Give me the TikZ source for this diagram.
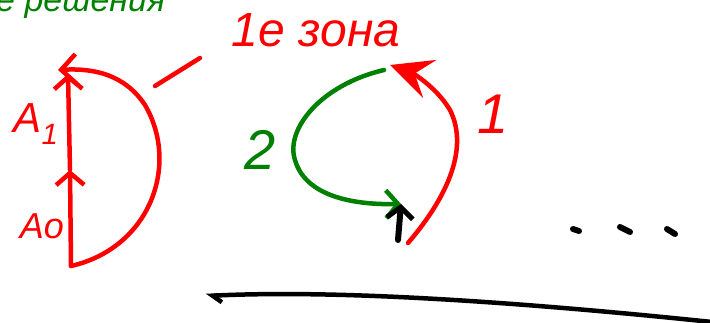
\documentclass[tikz,border=0pt]{standalone}
\usepackage{fontspec}
\setmainfont{Liberation Sans}
\usetikzlibrary{arrows.meta}

\tikzset{
  redpen/.style={draw=red, line width=4.5pt, line cap=round, line join=round},
  greenpen/.style={draw=green!50!black, line width=4.5pt, line cap=round, line join=round},
  blackpen/.style={draw=black, line width=4.5pt, line cap=round, line join=round},
  barb/.style={-{Straight Barb[length=12pt, width=28pt, line width=4.5pt]}},
  hand/.style={font=\itshape\fontsize{#1}{#1}\selectfont, inner sep=0pt}
}

\begin{document}
\begin{tikzpicture}[x=1pt, y=-1pt]
    \useasboundingbox (0,0) rectangle (710,323);
    \clip (0,0) rectangle (710,323);

    % top line, cut off as in the sketch
    \node[hand=34, text=green!50!black, anchor=base west] (top) at (-4,12) {е решения};

    % left: A0 -> A1 and the way back
    \coordinate (a0) at (71,266);
    \coordinate (am) at (70,170);
    \coordinate (a1) at (68,74);
    \coordinate (back) at (58,70);
    \draw[redpen, barb] (a0) -- (am);
    \draw[redpen, barb] (am) -- (a1);
    \draw[redpen, -{Straight Barb[length=15pt, width=30pt, line width=4.5pt]}] (a0)
        .. controls (150,248) and (180,165) .. (145,105)
        .. controls (125,75) and (95,68) .. (back);
    \node[hand=42, text=red] (lblA1) at (36,124) {A\textsubscript{1}};
    \node[hand=36, text=red] (lblA0) at (42,226) {Ao};

    \node[hand=48, text=red] (zone) at (316,30) {1е зона};
    \coordinate (ptrA) at (155,86);
    \coordinate (ptrB) at (200,58);
    \draw[redpen] (ptrA) -- (ptrB);

    % right: the loop 1 / 2
    \coordinate (cTop) at (390,65);
    \coordinate (gTop) at (384,70);
    \coordinate (cMid) at (401,204);
    \coordinate (cBot) at (408,243);
    \coordinate (bBot) at (398,240);
    \draw[redpen, -{Stealth[length=42pt, width=40pt, inset=16pt]}] (cBot)
        .. controls (445,200) and (470,150) .. (450,110)
        .. controls (435,85) and (410,72) .. (cTop);
    \draw[greenpen, barb] (gTop) .. controls (320,85) and (285,130) .. (295,160)
        .. controls (305,195) and (350,205) .. (cMid);
    \draw[blackpen, line width=6pt, -{Straight Barb[length=11pt, width=26pt, line width=5pt]}] (bBot) -- (cMid);
    \node[hand=56, text=green!50!black] (lbl2) at (260,150) {2};
    \node[hand=56, text=red] (lbl1) at (493,114) {1};

    % dots
    \draw[blackpen, line width=6pt] (573,229) -- (579,231);
    \draw[blackpen, line width=6pt] (620,227) -- (630,232);
    \draw[blackpen, line width=6pt] (667,229) -- (675,234);

    % long arrow at the bottom
    \coordinate (lineR) at (712,322);
    \coordinate (lineL) at (206,296);
    \draw[blackpen, -{Straight Barb[harpoon, length=9pt, width=14pt, line width=4.5pt]}]
        (lineR) .. controls (500,300) and (330,290) .. (lineL);
\end{tikzpicture}
\end{document}
